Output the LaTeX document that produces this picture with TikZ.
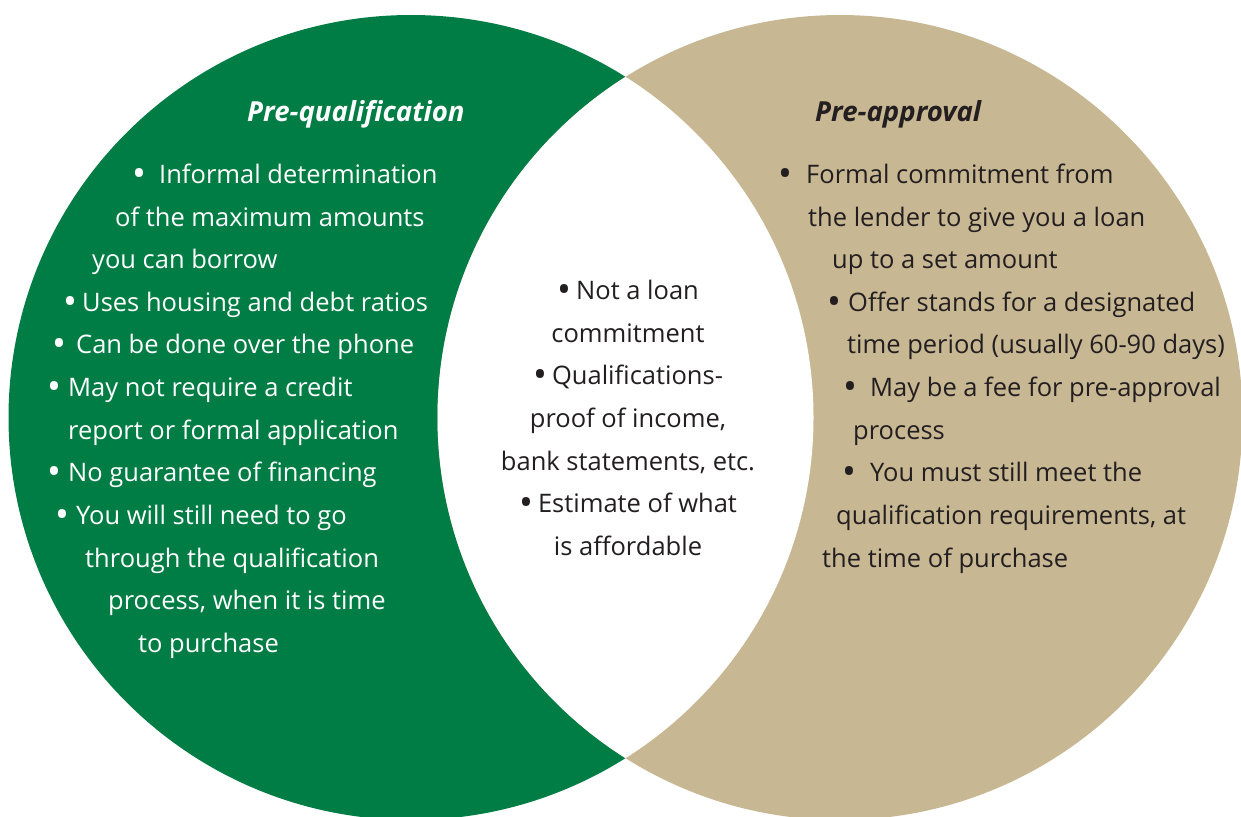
\documentclass[tikz,border=0pt]{standalone}
\usepackage{fontspec}
\setmainfont{Open Sans}
\definecolor{pqgreen}{RGB}{0,125,69}
\definecolor{patan}{RGB}{200,183,147}
\definecolor{inkdark}{RGB}{35,31,32}
\newcommand\bigdot{\raisebox{-3.8pt}{\scalebox{1.45}{\textbullet}}}
\newcommand\bul[1]{\makebox[#1pt][l]{\bigdot}}
\begin{document}
\begin{tikzpicture}[x=1pt,y=-1pt,
    txtline/.style={anchor=base west,inner sep=0pt,font=\fontsize{25.5}{30}\selectfont},
    midline/.style={anchor=base,inner sep=0pt,font=\fontsize{25.5}{30}\selectfont,text=inkdark},
    heading/.style={anchor=base west,inner sep=0pt,font=\fontsize{27.6}{30}\selectfont\bfseries\itshape}]
  \clip (0,0) rectangle (1241,816);
  % the two circles, white where they meet
  \fill[pqgreen] (411,417.5) circle (402.5);
  \fill[patan] (840,417.5) circle (402.5);
  \begin{scope}
    \clip (411,417.5) circle (402.5);
    \fill[white] (840,417.5) circle (402.5);
  \end{scope}
  % pre-qualification
  \draw[text=white]
    (247,121) node[heading] (pqtitle){Pre-qualification}
    (132,183) node[txtline] (pq1){\bul{27}Informal determination}
    (115,226) node[txtline] (pq2){of the maximum amounts}
    (92,268) node[txtline] (pq3){you can borrow}
    (63,311) node[txtline] (pq4){\bul{19}Uses housing and debt ratios}
    (52,353) node[txtline] (pq5){\bul{24}Can be done over the phone}
    (47,396) node[txtline] (pq6){\bul{21}May not require a credit}
    (68,439) node[txtline] (pq7){report or formal application}
    (47,481) node[txtline] (pq8){\bul{21}No guarantee of financing}
    (55,524) node[txtline] (pq9){\bul{21}You will still need to go}
    (85,567) node[txtline] (pq10){through the qualification}
    (108,609) node[txtline] (pq11){process, when it is time}
    (138,652) node[txtline] (pq12){to purchase};
  % common to both
  \draw
    (628,299) node[midline] (both1){\bul{19}Not a loan}
    (628,342) node[midline] (both2){commitment}
    (628,384) node[midline] (both3){\bul{19}Qualifications-}
    (628,427) node[midline] (both4){proof of income,}
    (628,470) node[midline] (both5){bank statements, etc.}
    (628,512) node[midline] (both6){\bul{19}Estimate of what}
    (628,555) node[midline] (both7){is affordable};
  % pre-approval
  \draw[text=inkdark]
    (815,121) node[heading] (patitle){Pre-approval}
    (778,183) node[txtline] (pa1){\bul{28}Formal commitment from}
    (808,226) node[txtline] (pa2){the lender to give you a loan}
    (832,268) node[txtline] (pa3){up to a set amount}
    (827,311) node[txtline] (pa4){\bul{21}Offer stands for a designated}
    (847,353) node[txtline] (pa5){time period (usually 60-90 days)}
    (843,396) node[txtline] (pa6){\bul{27}May be a fee for pre-approval}
    (853,439) node[txtline] (pa7){process}
    (842,481) node[txtline] (pa8){\bul{28}You must still meet the}
    (836,524) node[txtline] (pa9){qualification requirements, at}
    (822,567) node[txtline] (pa10){the time of purchase};
\end{tikzpicture}
\end{document}
